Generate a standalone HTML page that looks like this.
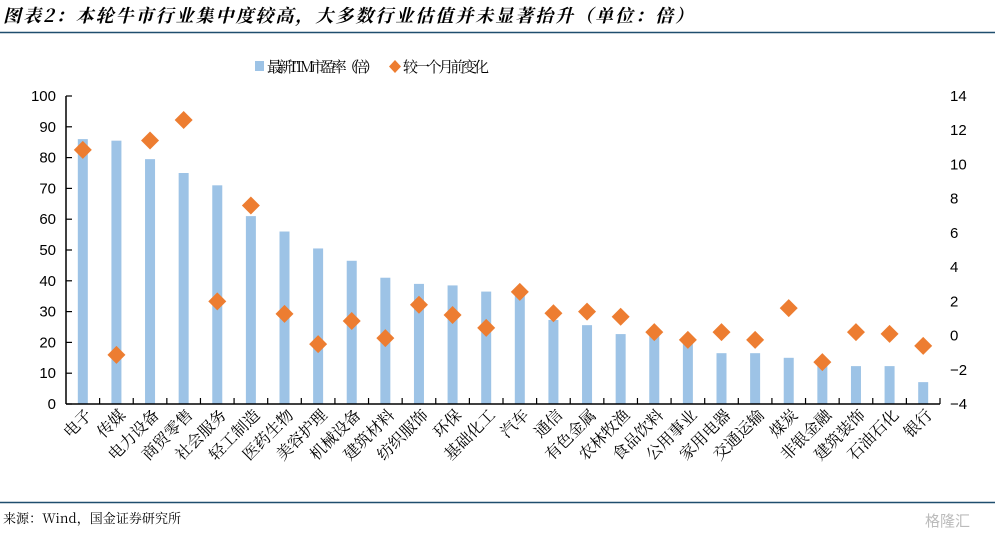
<!DOCTYPE html>
<html><head><meta charset="utf-8">
<style>
html,body{margin:0;padding:0;background:#fff;}
svg{display:block;}
text{font-family:"Liberation Sans","Noto Sans CJK SC",sans-serif;}
</style></head>
<body>
<svg id="chart" width="995" height="537" viewBox="0 0 995 537" xmlns="http://www.w3.org/2000/svg">
<text x="3" y="22" font-size="18" font-weight="bold" font-style="italic" fill="#000" textLength="690" style="font-family:'Noto Serif CJK SC','Noto Sans CJK SC',serif">图表2：本轮牛市行业集中度较高，大多数行业估值并未显著抬升（单位：倍）</text>
<line x1="0" y1="32.5" x2="995" y2="32.5" stroke="#1f4e6e" stroke-width="1.5"/>
<g>
<rect x="255" y="61" width="9" height="10" fill="#9dc3e6"/>
<text x="267" y="72" font-size="15" textLength="112" style="font-family:'Noto Serif CJK SC',serif">最新TTM市盈率（倍）</text>
<path d="M395,60 L401,66.5 L395,73 L389,66.5Z" fill="#ed7d31"/>
<text x="403" y="72" font-size="15" textLength="86" style="font-family:'Noto Serif CJK SC',serif">较一个月前变化</text>
</g>
<g id="plot"></g>
<line x1="0" y1="502.5" x2="995" y2="502.5" stroke="#1f4e6e" stroke-width="1.5"/>
<text x="3" y="523" font-size="13" textLength="178" style="font-family:'Noto Serif CJK SC','Liberation Mono',serif">来源：Wind，国金证券研究所</text>
<text x="925" y="526" font-size="15" fill="#bbb">格隆汇</text>
</svg>
<script>
const categories=["电子","传媒","电力设备","商贸零售","社会服务","轻工制造","医药生物","美容护理","机械设备","建筑材料","纺织服饰","环保","基础化工","汽车","通信","有色金属","农林牧渔","食品饮料","公用事业","家用电器","交通运输","煤炭","非银金融","建筑装饰","石油石化","银行"];
const peValues=[86,85.5,79.5,75,71,61,56,50.5,46.5,41,39,38.5,36.5,36,27.3,25.6,22.7,22.3,20,16.5,16.5,15,13,12.3,12.3,7.1];
const changeValues=[10.85,-1.13,11.4,12.6,2.0,7.6,1.27,-0.5,0.85,-0.15,1.8,1.2,0.45,2.55,1.3,1.4,1.1,0.2,-0.25,0.2,-0.25,1.6,-1.55,0.2,0.1,-0.6];
const leftTicks=[0,10,20,30,40,50,60,70,80,90,100];
const rightTicks=[-4,-2,0,2,4,6,8,10,12,14];
const NS="http://www.w3.org/2000/svg";
const g=document.getElementById('plot');
const X0=66,X1=940,Y0=404,Y1=96;
const band=(X1-X0)/categories.length;
const xC=i=>X0+band*(i+0.5);
const yL=v=>Y0-(v-0)/(100-0)*(Y0-Y1);
const yR=v=>Y0-(v+4)/18*(Y0-Y1);
function mk(t,a){const e=document.createElementNS(NS,t);for(const k in a)e.setAttribute(k,a[k]);g.appendChild(e);return e;}
peValues.forEach((v,i)=>{
 const r=mk('rect',{x:xC(i)-5,y:yL(v),width:10,height:Y0-yL(v),fill:'#9dc3e6'});
 
 
});
const la=mk('line',{x1:X0,y1:Y1,x2:X0,y2:Y0,stroke:'#000','stroke-width':1.5});


const xa=mk('line',{x1:X0,y1:Y0,x2:X1,y2:Y0,stroke:'#000','stroke-width':1.5});


leftTicks.forEach(v=>{
 const tk=mk('line',{x1:X0,y1:yL(v),x2:X0+6,y2:yL(v),stroke:'#000','stroke-width':1.2});
 
 
 const t=mk('text',{x:X0-10,y:yL(v)+5,'font-size':15,'text-anchor':'end'});
 t.textContent=v;
 
 
});
rightTicks.forEach(v=>{
 const t=mk('text',{x:950,y:yR(v)+5,'font-size':15,'text-anchor':'start'});
 t.textContent=v<0?'\u2212'+(-v):v;
 
 
});
for(let i=1;i<=categories.length;i++){
 const x=X0+band*i;
 const tk=mk('line',{x1:x,y1:Y0,x2:x,y2:Y0-6,stroke:'#000','stroke-width':1.2});
 
 
}
changeValues.forEach((v,i)=>{
 const x=xC(i),y=yR(v);
 const p=mk('path',{d:`M${x},${y-9} L${x+9},${y} L${x},${y+9} L${x-9},${y}Z`,fill:'#ed7d31'});
 
 
});
categories.forEach((c,i)=>{
 const x=xC(i)+10,y=416;
 const t=mk('text',{x:x,y:y,'font-size':16,'text-anchor':'end',transform:`rotate(-45 ${x} ${y})`});
 t.setAttribute('style',"font-family:'Noto Serif CJK SC','Noto Sans CJK SC',serif");
 t.textContent=c;
 
 
});
</script>
</body></html>
